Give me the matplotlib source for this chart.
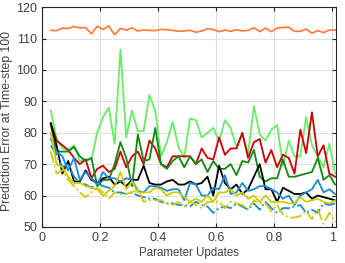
import numpy as np
import matplotlib
matplotlib.use('Agg')
import matplotlib.pyplot as plt

plt.rcParams['font.family'] = ['Liberation Sans', 'DejaVu Sans']

updates = [0.03 + 0.02 * i for i in range(50)]

orange = [112.6, 112.5, 113.3, 113.2, 113.8, 113.4, 113.5, 111.5, 113.9, 112.9,
          114.0, 111.2, 113.2, 112.7, 113.4, 112.4, 112.7, 112.6, 112.5, 112.9,
          112.8, 112.6, 112.3, 112.4, 112.6, 112.0, 112.4, 113.1, 112.9, 112.2,
          112.7, 112.3, 112.8, 112.4, 112.6, 113.4, 112.2, 113.3, 112.2, 113.3,
          113.5, 113.6, 112.3, 112.3, 113.0, 111.7, 112.5, 111.9, 112.7, 112.7]
light_green = [87, 78, 75, 74.5, 76, 71, 71.5, 71.5, 80, 85,
               88, 76.5, 106.5, 78.5, 87, 80.5, 80.5, 92, 87, 72.5,
               77, 83.5, 75.5, 72, 84.5, 84, 78.5, 80, 81.5, 77.5,
               84, 81.5, 75.5, 79.5, 73.5, 88.5, 79.5, 77.5, 81, 82.5,
               69.5, 77.5, 72.5, 72.5, 85, 76, 72.5, 69, 76.5, 67]
red = [83, 77.5, 76, 74.5, 72, 70, 71.5, 65.5, 68.5, 69.5,
       67.5, 68.5, 74, 69, 72.5, 74, 70, 77.5, 75, 70,
       69, 72.5, 72.5, 72.5, 72.5, 70, 75, 72, 71.5, 78.5,
       73, 75, 75, 80, 72, 77, 78, 70.5, 74.5, 69,
       73, 72, 67, 81, 73.5, 86.5, 72.5, 76, 67, 66]
dark_green = [82.5, 74, 74, 74, 75.5, 72.5, 71, 72, 63, 65,
              65, 70, 77, 72, 63, 79.5, 71, 71.5, 81.5, 70,
              68.5, 71, 72.5, 69, 72.5, 70, 71.5, 67.5, 71, 68.5,
              68.5, 70, 66.5, 71, 70.5, 74.5, 66, 64.5, 65.5, 65.5,
              71.5, 66, 66, 66.5, 67, 67.5, 72, 65, 66.5, 63.5]
black = [83, 76, 67, 71, 64.5, 64.5, 68, 65, 64, 65.5,
         66, 63.5, 64.5, 63, 65, 65, 69.5, 64, 63.5, 63.5,
         64.5, 65, 63.5, 63.5, 64.5, 63.5, 64, 66, 60, 69.5,
         64, 62, 63.5, 60.5, 62, 66, 70, 62, 62, 58,
         62.5, 61.5, 60.5, 60.5, 61, 59, 60, 59.5, 59, 58.5]
blue = [78, 74, 72.5, 68, 72, 65, 67.5, 65.5, 63.5, 67.5,
        65.5, 65.5, 64.5, 65.5, 65, 61.5, 61, 63, 63, 62.5,
        61.5, 62, 62, 58.5, 64, 63.5, 60, 60, 62.5, 62,
        66.5, 60.5, 61, 64, 61.5, 62, 63, 63, 62, 61,
        59, 60, 57, 60, 61, 62, 65, 61, 62, 60.5]
blue_dd = [76, 73, 69, 70, 66, 64, 63.5, 62.5, 64, 63,
           62.5, 61, 61, 60.5, 61, 60, 59.5, 59, 59, 58,
           57.5, 57.5, 57, 57, 56.5, 58, 57, 56.5, 54.5, 56,
           56.5, 56, 57.5, 56.5, 55.5, 57.5, 55.5, 58, 56, 54.5,
           56, 56, 56.5, 57, 54.5, 55.5, 54.5, 57.5, 57, 57.5]
yellow = [80, 70, 69, 66, 64, 64, 63, 62.5, 62, 60,
          61.5, 63, 67.5, 62, 64.5, 61, 61, 61, 62.5, 62,
          60, 61, 61, 59.5, 58, 59, 58, 60, 58, 61,
          61, 62, 60, 61, 59, 60, 58, 60, 58, 58,
          58, 57.5, 57.5, 59.5, 58, 58.5, 59, 58, 57.5, 58.5]
yellow_dd = [74, 67, 68, 65, 63, 61, 59.5, 61, 62.5, 61,
             59, 61, 60.5, 60.5, 61, 62, 58, 58.5, 58.5, 58.5,
             57.5, 57, 58, 56.5, 58, 57, 56, 58, 58, 58,
             56, 58, 57.5, 57, 55.5, 58.5, 57.5, 57.5, 55, 57,
             54, 53, 53, 53.5, 55, 52.5, 55.5, 51, 54.5, 51.5]

fig = plt.figure(figsize=(3.45, 2.63), dpi=100)
ax = fig.add_axes([0.122, 0.137, 0.852, 0.836])

lw = 1.3
ax.plot(updates, orange, color='#ff7f3f', lw=lw)
ax.plot(updates, light_green, color='#66ee66', lw=lw)
ax.plot(updates, red, color='#cc0000', lw=lw)
ax.plot(updates, dark_green, color='#118811', lw=lw)
ax.plot(updates, black, color='#000000', lw=lw)
ax.plot(updates, blue, color='#1a8ad4', lw=lw)
ax.plot(updates, blue_dd, color='#1a8ad4', lw=lw, linestyle='-.')
ax.plot(updates, yellow, color='#cccc00', lw=lw)
ax.plot(updates, yellow_dd, color='#cccc00', lw=lw, linestyle='-.')

ax.set_xlim(0, 1.013)
ax.set_ylim(50, 120)
ax.set_xticks([0, 0.2, 0.4, 0.6, 0.8, 1])
ax.set_xticklabels(['0', '0.2', '0.4', '0.6', '0.8', '1'])
ax.set_yticks(range(50, 121, 10))
ax.grid(True, color='#e0e0e0', lw=0.8)
ax.set_axisbelow(True)
txt = '#404040'
ax.tick_params(direction='in', top=True, right=True, labelsize=9, length=3,
               colors='#262626', labelcolor=txt)
for s in ax.spines.values():
    s.set_color('#262626')
    s.set_linewidth(0.8)
ax.set_xlabel('Parameter Updates', fontsize=8.3, color=txt, labelpad=2)
ax.set_ylabel('Prediction Error at Time-step 100', fontsize=8.8, color=txt, labelpad=3)
ax.yaxis.set_label_coords(-0.098, 0.48)

fig.savefig('out.png', dpi=100)
